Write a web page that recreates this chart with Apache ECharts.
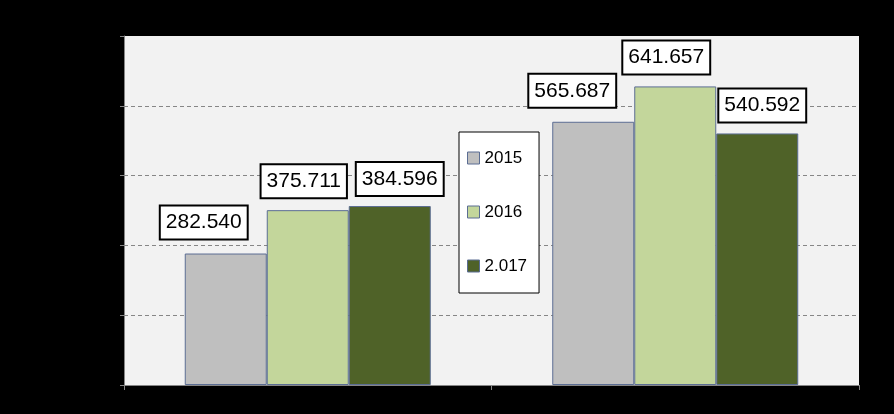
<!DOCTYPE html>
<html>
<head>
<meta charset="utf-8">
<script src="https://cdn.jsdelivr.net/npm/echarts@6/dist/echarts.min.js"></script>
<style>
html,body{margin:0;padding:0;background:#000;}
#c{width:894px;height:414px;}
</style>
</head>
<body>
<div id="c"></div>
<script>
var categories = ['A', 'B'];
var seriesNames = ['2015', '2016', '2.017'];
var values2015 = [282.540, 565.687];
var values2016 = [375.711, 641.657];
var values2017 = [384.596, 540.592];
var yTicks = [0, 150, 300, 450, 600, 750];

var colors = ['#bfbfbf', '#c3d69b', '#4f6228'];
var labelOffsets = [
  [[-22, -15], [-21, -15]],
  [[-4, -13], [-9, -13]],
  [[10, -11], [5, -12]]
];

var allValues = [values2015, values2016, values2017];
var series = allValues.map(function (vals, si) {
  return {
    name: seriesNames[si],
    type: 'bar',
    barWidth: 82,
    barGap: '0%',
    itemStyle: { color: colors[si], borderColor: '#5b6d93', borderWidth: 1 },
    label: {
      show: true,
      position: 'top',
      distance: 0,
      color: '#000',
      fontFamily: 'Liberation Sans',
      fontSize: 21,
      lineHeight: 22,
      backgroundColor: '#fff',
      borderColor: '#000',
      borderWidth: 2,
      padding: [5, 5],
      formatter: function (p) { return p.value.toFixed(3); }
    },
    data: vals.map(function (v, i) {
      return { value: v, label: { offset: labelOffsets[si][i] } };
    })
  };
});

var chart = echarts.init(document.getElementById('c'));
chart.setOption({
  backgroundColor: '#000',
  animation: false,
  grid: {
    left: 124, right: 35, top: 36, bottom: 29,
    show: true, backgroundColor: '#f2f2f2', borderWidth: 0
  },
  legend: {
    orient: 'vertical',
    left: 459, top: 132,
    padding: [16, 12, 17, 8],
    backgroundColor: '#fff',
    borderColor: '#000',
    borderWidth: 1,
    itemWidth: 12, itemHeight: 12,
    itemGap: 34,
    itemStyle: { borderColor: '#5b6d93', borderWidth: 1 },
    icon: 'rect',
    textStyle: { fontFamily: 'Liberation Sans', fontSize: 17, lineHeight: 20, color: '#000' },
    data: seriesNames
  },
  xAxis: {
    type: 'category',
    data: categories,
    axisLine: { lineStyle: { color: '#868686', width: 1 } },
    axisTick: { show: true, length: 5, lineStyle: { color: '#868686' } },
    axisLabel: { show: false }
  },
  yAxis: {
    type: 'value',
    min: yTicks[0],
    max: yTicks[yTicks.length - 1],
    interval: yTicks[1] - yTicks[0],
    axisLine: { show: true, lineStyle: { color: '#868686', width: 1 } },
    axisTick: { show: true, length: 4, lineStyle: { color: '#868686' } },
    axisLabel: { show: false },
    splitLine: { show: true, showMaxLine: false, lineStyle: { color: '#868686', type: [4, 3] } }
  },
  series: series
});
</script>
</body>
</html>
